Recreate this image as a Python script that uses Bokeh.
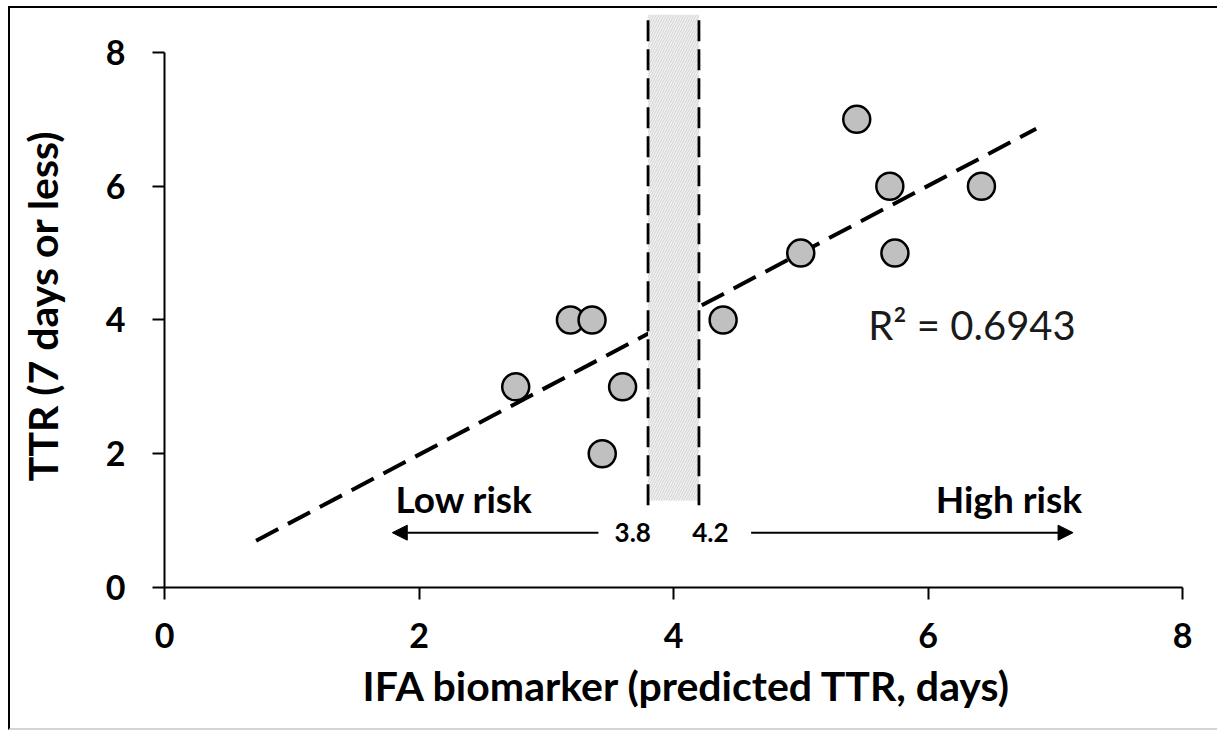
from bokeh.plotting import figure
from bokeh.models import Range1d, FixedTicker, Arrow, NormalHead
from bokeh.core.properties import value
from bokeh.embed import file_html
from bokeh.resources import INLINE

# ---- data ----
ifa_pred = [2.76, 3.19, 3.36, 3.44, 3.60, 4.39, 5.00, 5.44, 5.70, 5.74, 6.42]
ttr_obs = [3, 4, 4, 2, 3, 4, 5, 7, 6, 5, 6]
trend_x = [0.72, 6.85]
trend_y = [0.70, 6.86]
cutoffs = [3.8, 4.2]
cutoff_labels = ["3.8", "4.2"]
ticks = [0, 2, 4, 6, 8]
r2_label = "R² = 0.6943"
risk_labels = ["Low risk", "High risk"]

FONT = "Lato"
Y_TOP = 8.568

p = figure(width=1209, height=724, output_backend="svg", toolbar_location=None,
           x_range=Range1d(0, 8.22), y_range=Range1d(0, Y_TOP),
           min_border_left=154, min_border_right=9, min_border_top=6, min_border_bottom=145)
p.styles = {"margin-left": "8px", "margin-top": "6px",
            "border-left": "2px solid #000000", "border-top": "2px solid #000000",
            "border-bottom": "2px solid #d4d4d4"}
p.outline_line_color = None
p.grid.visible = False
p.background_fill_color = "white"
p.border_fill_color = "white"

for ax in (p.xaxis[0], p.yaxis[0]):
    ax.bounds = (0, 8)
    ax.ticker = FixedTicker(ticks=ticks)
    ax.axis_line_width = 2
    ax.axis_line_color = "black"
    ax.major_tick_line_width = 2
    ax.major_tick_line_color = "black"
    ax.major_tick_in = 0
    ax.major_tick_out = 12
    ax.minor_tick_in = 0
    ax.minor_tick_out = 0
    ax.major_label_text_font = FONT
    ax.major_label_text_font_style = "bold"
    ax.major_label_text_font_size = "34px"
    ax.major_label_text_color = "black"
    ax.axis_label_text_font = FONT
    ax.axis_label_text_font_style = "bold"
    ax.axis_label_text_font_size = "41px"
    ax.axis_label_text_color = "black"

p.xaxis[0].axis_label = "IFA biomarker (predicted TTR, days)"
p.xaxis[0].major_label_standoff = 23
p.xaxis[0].axis_label_standoff = 10
p.yaxis[0].axis_label = "TTR  (7 days or less)"
p.yaxis[0].major_label_standoff = 27
p.yaxis[0].axis_label_standoff = 36

# trend line
p.line(trend_x, trend_y, line_color="black", line_width=4, line_dash="25 11")

# indeterminate band between cut-offs
p.quad(left=[cutoffs[0]], right=[cutoffs[1]], bottom=[1.30], top=[Y_TOP],
       fill_color="#f1f1f1", line_color=None,
       hatch_pattern="/", hatch_color="#d2d2d2", hatch_scale=5, hatch_weight=1)
p.segment(x0=cutoffs, y0=[1.23, 1.23], x1=cutoffs, y1=[Y_TOP, Y_TOP],
          line_color="black", line_width=2.8, line_dash="21 8")

# points
p.scatter(ifa_pred, ttr_obs, size=27, marker="circle", fill_color="#c0c0c0",
          line_color="black", line_width=2.5)

# cut-off labels
p.text(x=[3.68, 4.29], y=[0.82, 0.82], text=cutoff_labels, text_font=value(FONT),
       text_font_style="bold", text_font_size="26px", text_align="center",
       text_baseline="middle", text_color="black")

# risk labels
p.text(x=[1.815], y=[1.33], text=[risk_labels[0]], text_font=value(FONT),
       text_font_style="bold", text_font_size="37px", text_align="left",
       text_baseline="middle", text_color="black")
p.text(x=[7.21], y=[1.33], text=[risk_labels[1]], text_font=value(FONT),
       text_font_style="bold", text_font_size="37px", text_align="right",
       text_baseline="middle", text_color="black")

# R^2 label
p.text(x=[5.53], y=[3.92], text=[r2_label], text_font=value(FONT),
       text_font_size="40px", text_align="left", text_baseline="middle",
       text_color="#1a1a1a")

# arrows
p.add_layout(Arrow(end=NormalHead(size=15, fill_color="black", line_color="black", line_width=1),
                   x_start=3.41, y_start=0.82, x_end=1.79, y_end=0.82,
                   line_width=2, line_color="black"))
p.add_layout(Arrow(end=NormalHead(size=15, fill_color="black", line_color="black", line_width=1),
                   x_start=4.61, y_start=0.82, x_end=7.14, y_end=0.82,
                   line_width=2, line_color="black"))

open("out.html", "w").write(file_html(p, INLINE))
